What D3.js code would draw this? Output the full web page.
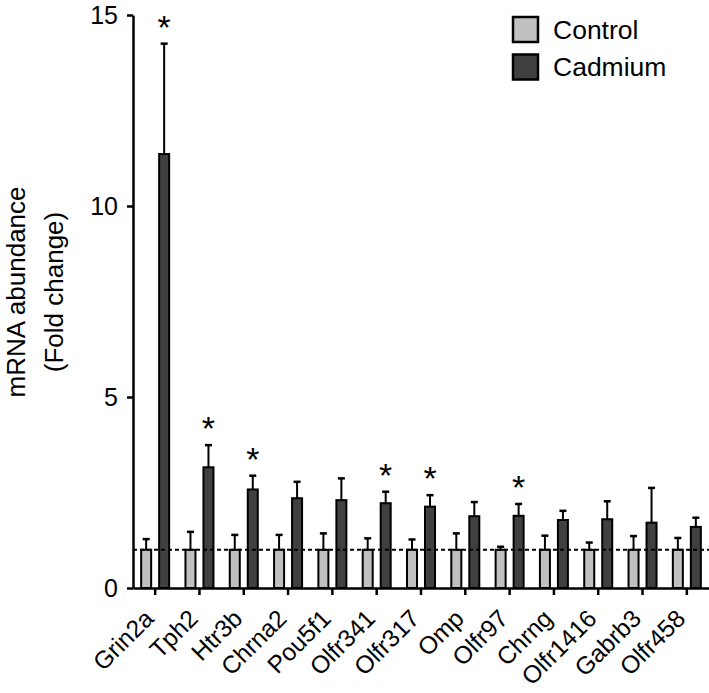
<!DOCTYPE html>
<html>
<head>
<meta charset="utf-8">
<script src="https://cdn.jsdelivr.net/npm/d3@7"></script>
<style>
  body { margin: 0; background: #fff; }
  svg { display: block; font-family: "Liberation Sans", Arial, sans-serif; }
</style>
</head>
<body>
<div id="chart"></div>
<script>
// genes on the x axis
const genes = ["Grin2a", "Tph2", "Htr3b", "Chrna2", "Pou5f1", "Olfr341", "Olfr317",
               "Omp", "Olfr97", "Chrng", "Olfr1416", "Gabrb3", "Olfr458"];
const series = ["Control", "Cadmium"];

// fold change means and upper error (mean + sem)
const controlMean = [1, 1, 1, 1, 1, 1, 1, 1, 1, 1, 1, 1, 1];
const controlErr  = [1.28, 1.47, 1.39, 1.39, 1.43, 1.30, 1.27, 1.43, 1.08, 1.37, 1.19, 1.36, 1.31];
const cadmiumMean = [11.36, 3.16, 2.58, 2.35, 2.30, 2.22, 2.13, 1.88, 1.89, 1.78, 1.80, 1.71, 1.60];
const cadmiumErr  = [14.25, 3.74, 2.94, 2.78, 2.87, 2.52, 2.43, 2.25, 2.20, 2.02, 2.27, 2.62, 1.84];
const significant = [true, true, true, false, false, true, true, false, true, false, false, false, false];

const yTicks = [0, 5, 10, 15];
const baseline = 1;

const colors = { Control: "#c0c0c0", Cadmium: "#404040" };

const W = 709, H = 693;
const margin = { top: 15, right: 0, bottom: 105, left: 133 };

const svg = d3.select("#chart").append("svg")
    .attr("width", W)
    .attr("height", H);

svg.append("rect").attr("width", W).attr("height", H).attr("fill", "#fff");

const x = d3.scaleBand()
    .domain(genes)
    .range([margin.left, W - margin.right])
    .padding(0);

const bw = x.bandwidth();
const x1 = d3.scaleBand()
    .domain(series)
    .range([bw / 2 - 14, bw / 2 + 14])
    .paddingInner(0.444);

const y = d3.scaleLinear()
    .domain([0, 15])
    .range([H - margin.bottom, margin.top]);

// rows per gene
const rows = genes.map((g, i) => ({
  gene: g,
  sig: significant[i],
  vals: [
    { s: "Control", mean: controlMean[i], err: controlErr[i] },
    { s: "Cadmium", mean: cadmiumMean[i], err: cadmiumErr[i] }
  ]
}));

const groups = svg.append("g").selectAll("g")
  .data(rows)
  .join("g")
    .attr("transform", d => "translate(" + x(d.gene) + ",0)");

// error bars (upper only)
groups.selectAll("line.err")
  .data(d => d.vals)
  .join("line")
    .attr("class", "err")
    .attr("x1", d => x1(d.s) + x1.bandwidth() / 2)
    .attr("x2", d => x1(d.s) + x1.bandwidth() / 2)
    .attr("y1", d => y(d.mean))
    .attr("y2", d => y(d.err))
    .attr("stroke", "#000")
    .attr("stroke-width", 2);

groups.selectAll("line.cap")
  .data(d => d.vals)
  .join("line")
    .attr("class", "cap")
    .attr("x1", d => x1(d.s) + x1.bandwidth() / 2 - 3.5)
    .attr("x2", d => x1(d.s) + x1.bandwidth() / 2 + 3.5)
    .attr("y1", d => y(d.err))
    .attr("y2", d => y(d.err))
    .attr("stroke", "#000")
    .attr("stroke-width", 2.5);

groups.selectAll("rect")
  .data(d => d.vals)
  .join("rect")
    .attr("x", d => x1(d.s))
    .attr("width", x1.bandwidth())
    .attr("y", d => y(d.mean))
    .attr("height", d => y(0) - y(d.mean))
    .attr("fill", d => colors[d.s])
    .attr("stroke", "#000")
    .attr("stroke-width", 2);

// significance stars
groups.filter(d => d.sig)
  .append("text")
    .attr("x", x1("Cadmium") + x1.bandwidth() / 2)
    .attr("y", d => y(d.vals[1].err) - 5)
    .attr("text-anchor", "middle")
    .style("font-size", "34px")
    .text("*");

// dotted reference line at 1
svg.append("line")
    .attr("x1", margin.left)
    .attr("x2", W - margin.right)
    .attr("y1", y(baseline))
    .attr("y2", y(baseline))
    .attr("stroke", "#000")
    .attr("stroke-width", 2)
    .attr("stroke-dasharray", "4,3");

// y axis
const yAxis = svg.append("g")
    .attr("transform", "translate(" + margin.left + ",0)")
    .call(d3.axisLeft(y).tickValues(yTicks).tickSize(6).tickSizeOuter(0).tickPadding(9));
yAxis.select(".domain").attr("stroke-width", 2.5);
yAxis.selectAll(".tick line").attr("stroke-width", 2.5);
yAxis.selectAll("text")
    .style("font-size", "25px")
    .style("font-family", "Liberation Sans, Arial, sans-serif")
    .attr("fill", "#000");

// x axis
const xAxis = svg.append("g")
    .attr("transform", "translate(0," + y(0) + ")")
    .call(d3.axisBottom(x).tickSize(7).tickSizeOuter(0));
xAxis.select(".domain").attr("stroke-width", 2.5);
xAxis.selectAll(".tick line").attr("stroke-width", 2.5);
xAxis.selectAll("text")
    .attr("y", 0)
    .attr("dy", null)
    .attr("transform", "translate(0,32) rotate(-45)")
    .attr("text-anchor", "end")
    .style("font-size", "24.5px")
    .style("font-family", "Liberation Sans, Arial, sans-serif")
    .attr("fill", "#000");

// y label
const ylab = svg.append("text")
    .attr("transform", "translate(25,292) rotate(-90)")
    .attr("text-anchor", "middle")
    .style("font-size", "26px");
ylab.append("tspan").attr("x", 0).attr("y", 0).text("mRNA abundance");
ylab.append("tspan").attr("x", 0).attr("y", 38).text("(Fold change)");

// legend
const legend = svg.append("g")
    .attr("transform", "translate(513,17)")
    .selectAll("g")
    .data(series)
    .join("g")
    .attr("transform", (d, i) => "translate(0," + i * 37.5 + ")");

legend.append("rect")
    .attr("width", 25)
    .attr("height", 25)
    .attr("fill", d => colors[d])
    .attr("stroke", "#000")
    .attr("stroke-width", 2.5);

legend.append("text")
    .attr("x", 40)
    .attr("y", 21.5)
    .style("font-size", "26.5px")
    .text(d => d);
</script>
</body>
</html>
